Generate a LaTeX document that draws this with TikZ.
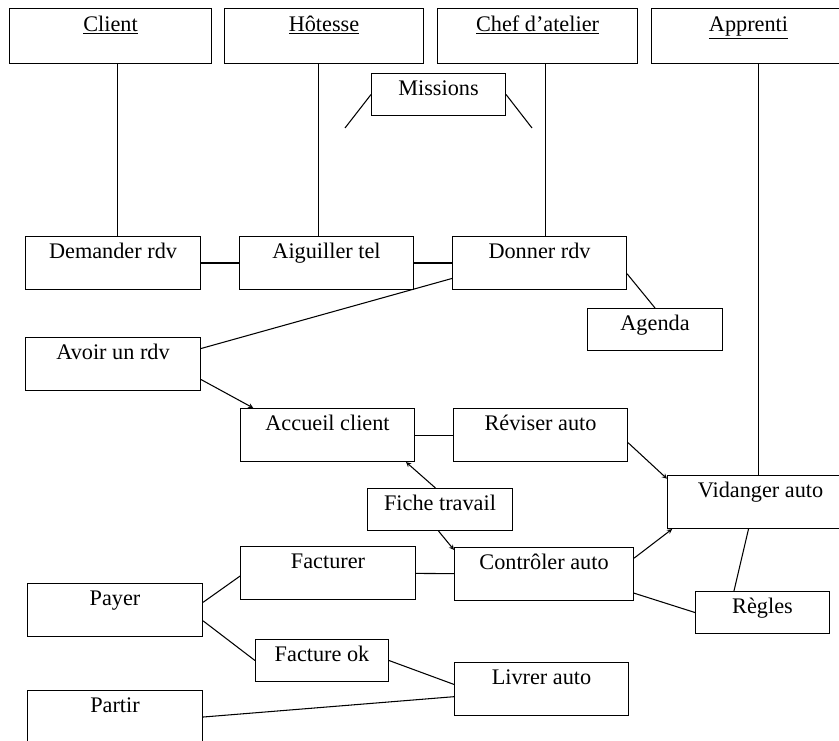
\documentclass[tikz,border=0pt]{standalone}
\usepackage{fontspec}
\setmainfont{Liberation Serif}

\begin{document}
\begin{tikzpicture}[x=0.03cm,y=-0.03cm,line width=0.9pt,font=\fontsize{19}{21}\selectfont]
      \tikzstyle{acteur}=[draw,inner sep=0pt,anchor=north west,minimum width=6cm,text height=0.69cm,text depth=0.96cm]
      \tikzstyle{tache}=[draw,inner sep=0pt,anchor=north west,minimum width=5.25cm,text height=0.66cm,text depth=0.93cm]
      \tikzstyle{objet}=[draw,inner sep=0pt,anchor=north west,minimum width=4.02cm,text height=0.66cm,text depth=0.6cm]
      \tikzstyle{fleche}=[->,>=stealth]
      \clip (0,0) rectangle (839,741);
      \fill[white] (0,0) rectangle (839,741);
      % acteurs
      \node[acteur,minimum width=6.06cm] (client) at (9,8) {\underline{Client}};
      \node[acteur,minimum width=5.97cm] (hot) at (224,8) {\underline{Hôtesse}};
      \node[acteur] (chef) at (437,8) {\underline{Chef d'atelier}};
      \node[acteur,minimum width=5.82cm] (app) at (651,8) {\underline{Apprenti}};
      \node[objet] (mis) at (371,73) {Missions};
      \coordinate (misg) at (345,128);
      \coordinate (misd) at (532,128);
      % taches
      \node[tache] (dem) at (25,236) {Demander rdv};
      \node[tache,minimum width=5.22cm] (aig) at (239,236) {Aiguiller tel};
      \node[tache,minimum width=5.22cm] (don) at (452,236) {Donner rdv};
      \node[objet,minimum width=4.05cm] (age) at (587,308) {Agenda};
      \node[tache] (avo) at (25,337) {Avoir un rdv};
      \node[tache,minimum width=5.22cm] (acc) at (240,408) {Accueil client};
      \node[tache,minimum width=5.22cm] (rev) at (453,408) {Réviser auto};
      \node[tache,minimum width=5.58cm] (vid) at (667,475) {Vidanger auto};
      \node[objet,minimum width=4.35cm] (fic) at (367,488) {Fiche travail};
      \node[tache,minimum width=5.37cm] (con) at (454,547) {Contrôler auto};
      \node[objet] (reg) at (695,591) {Règles};
      \node[tache] (fac) at (240,546) {Facturer};
      \node[tache] (pay) at (27,583) {Payer};
      \node[objet,minimum width=3.99cm] (fok) at (255,639) {Facture ok};
      \node[tache,minimum width=5.22cm] (liv) at (454,662) {Livrer auto};
      \node[tache] (par) at (27,690) {Partir};
      % lignes de vie
      \draw ([xshift=2mm]client.south) -- ([xshift=2mm]client.south |- dem.north);
      \draw ([xshift=-1.7mm]hot.south) -- ([xshift=-1.7mm]hot.south |- aig.north);
      \draw ([xshift=2.4mm]chef.south) -- ([xshift=2.4mm]chef.south |- don.north);
      \draw ([xshift=3mm]app.south) -- ([xshift=3mm]app.south |- vid.north);
      \draw (mis.west) -- (misg);
      \draw (mis.east) -- (misd);
      % liens
      \draw (dem) -- (aig);
      \draw (aig) -- (don);
      \draw (avo.10) -- (don.190);
      \draw (don.-7) -- (age.north);
      \draw[fleche] (avo.-10) -- (acc.160);
      \draw (acc) -- (rev);
      \draw[fleche] (fic.102) -- (acc.-19);
      \draw[fleche] (fic.-94) -- (con.165);
      \draw[fleche] (rev.-5) -- (vid.166);
      \draw[fleche] (con.10) -- (vid.197);
      \draw (vid.-114) -- (reg.143);
      \draw (reg.west) -- (con.-12);
      \draw (fac) -- (con);
      \draw (pay.5) -- (fac.182);
      \draw (pay.-7) -- (fok.west);
      \draw (fok.east) -- (liv.177);
      \draw (par.east) -- (liv.185);
\end{tikzpicture}
\end{document}
